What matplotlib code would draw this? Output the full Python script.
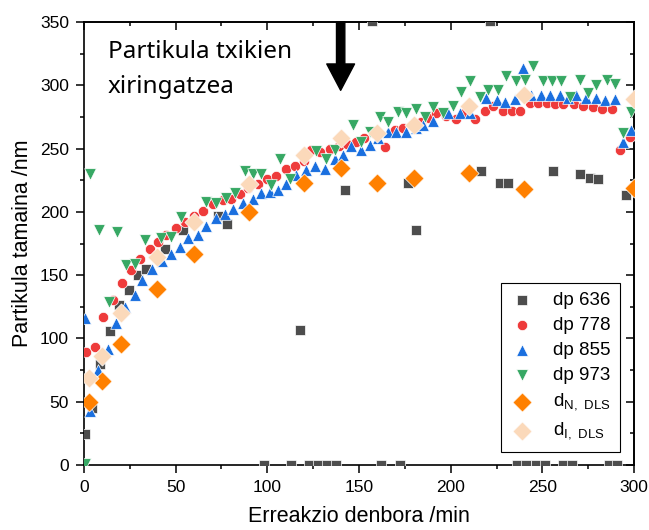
import matplotlib
matplotlib.use('Agg')
import matplotlib.pyplot as plt
from matplotlib.patches import FancyArrowPatch
from matplotlib.ticker import MultipleLocator

plt.rcParams['font.family'] = ['Liberation Sans', 'DejaVu Sans']

# dp 636 (grey squares)
t_636 = [0.4, 4.3, 9, 14, 19.3, 24.3, 29.5, 34, 44, 54, 73, 78, 98.3, 112.9,
         117.7, 122.9, 127.8, 132.7, 137.6, 142.3, 157.3, 162, 172.2, 176.8,
         181.3, 216.8, 221.7, 226.8, 231.3, 236.3, 241.3, 246.3, 251.3, 255.9,
         261, 266, 270.4, 275.9, 280.4, 286.5, 290.9, 295.5]
d_636 = [24.5, 44.8, 80, 105.5, 126.4, 138, 150, 155, 171, 186, 197, 190.5, 0, 0,
         107, 0, 0, 0, 0, 217, 351, 0, 0, 223,
         186, 232, 351, 223, 223, 0, 0, 0, 0, 232,
         0, 0, 230, 227, 226, 0, 0, 213]

# dp 778 (red circles)
t_778 = [1.3, 5.8, 10.4, 15.8, 20.7, 25.9, 30.4, 35.8, 40.4, 45, 50.4, 55, 60,
         65, 70.4, 75.8, 80.4, 85, 89.5, 95, 100, 105, 110.4, 115, 120, 124,
         129, 134, 139, 143.5, 148.6, 153, 158, 164, 169.5, 174, 179, 184, 188,
         192.2, 197.5, 203, 208, 213, 218.6, 223.2, 228.7, 233.2, 237.8, 243.2,
         247.8, 252.4, 256.9, 261.5, 267, 272.4, 277.9, 282.4, 287.9, 292.2, 297.7]
d_778 = [89.5, 93.5, 117, 130, 144, 154, 163, 171, 176, 182, 187, 192, 197,
         201, 206, 209, 210, 214, 218.5, 222, 226, 228, 234, 236, 240, 249,
         247, 250, 252, 254, 255, 258, 262, 251, 265, 266, 269, 271, 274,
         278, 276, 273, 279, 273, 280, 284, 280, 280, 280, 286,
         286, 286, 285, 285, 285, 284, 283, 281, 281, 249, 259]

# dp 855 (blue triangles)
t_855 = [0.4, 3.1, 7.6, 13, 17.7, 22.2, 27.7, 31.8, 37.3, 42.3, 47.7, 52.2, 56.7,
         62.2, 66.8, 72.2, 76.8, 81.3, 86.8, 92.2, 96.8, 101.3, 105.9, 110.4,
         115.9, 121.3, 125.9, 131.3, 136.8, 141.3, 145.9, 151.3, 155.9, 160.4,
         165.8, 170.4, 175.9, 181, 185, 190.6, 198.6, 205, 210.4, 219.5, 225,
         229.5, 235, 239.5, 244, 249.5, 254, 259.5, 264, 268.6, 274, 279.5, 284,
         289.5, 294, 298.6]
d_855 = [116, 43, 75, 92, 112, 125, 134, 146, 155, 161, 167, 172, 179,
         182, 189, 195, 198, 202, 207, 210, 215, 216, 217, 222,
         229, 233, 236, 234, 242, 245, 252, 249, 253, 258,
         263, 263, 263, 266, 269, 272, 278, 278, 278, 290, 288,
         287, 289, 314, 292, 292, 292, 292, 290, 292, 290, 290, 288,
         289, 255, 265]

# dp 973 (green down triangles)
t_973 = [0.4, 3.1, 8.2, 13.6, 18.2, 23.1, 27.7, 33.1, 42.2, 47.7, 53, 66.8, 72.2,
         77.7, 82.2, 87.7, 92.2, 96.8, 102.2, 106.8, 112.2, 126.8, 132.2, 136.8,
         146.8, 151.3, 155.9, 161.3, 165.8, 171.3, 175.9, 181.3, 185.9, 190.4,
         195.9, 201.3, 205.9, 210.4, 215.9, 220.4, 225.9, 230.4, 235.9, 240.4,
         245, 250.4, 255, 260.4, 265, 270.4, 275, 279.5, 285, 289.5, 294, 298.6]
d_973 = [1, 230, 186, 129, 184, 158, 159, 178, 179, 180, 196, 208, 207,
         211, 215, 232, 230, 230, 221, 242, 226, 248, 242, 249,
         269, 255, 263, 275, 271, 279, 278, 281, 275, 283,
         278, 284, 295, 303, 291, 296, 296, 307, 303, 304,
         315, 303, 303, 303, 291, 304, 294, 300, 304, 301, 262, 279]

# DLS
t_dls = [3, 10, 20, 40, 60, 90, 120, 140, 160, 180, 210, 240, 300]
dN_dls = [50, 66, 96, 139, 167, 200, 223, 235, 223, 227, 231, 218, 219]
dI_dls = [69, 86, 120, 164, 192, 222, 245, 258, 262, 269, 284, 292, 289]

fig = plt.figure(figsize=(6.49, 5.30), dpi=100)
ax = fig.add_axes([0.1294, 0.1226, 0.8475, 0.8359])

kw = dict(edgecolors='white', linewidths=0.5, zorder=3)
ax.scatter(t_636, d_636, marker='s', s=50, color='#4d4d4d', label='dp 636', **kw)
ax.scatter(t_778, d_778, marker='o', s=55, color='#ee3b3b', label='dp 778', **kw)
ax.scatter(t_855, d_855, marker='^', s=70, color='#1a6fdf', label='dp 855', **kw)
ax.scatter(t_973, d_973, marker='v', s=70, color='#37a864', label='dp 973', **kw)
ax.scatter(t_dls, dN_dls, marker='D', s=95, color='#ff8000',
           label=r'd$_\mathregular{N,\ DLS}$', **kw)
ax.scatter(t_dls, dI_dls, marker='D', s=95, color='#fbd9ba',
           label=r'd$_\mathregular{I,\ DLS}$', **kw)

ax.set_xlim(0, 300)
ax.set_ylim(0, 350)
ax.xaxis.set_major_locator(MultipleLocator(50))
ax.xaxis.set_minor_locator(MultipleLocator(25))
ax.yaxis.set_major_locator(MultipleLocator(50))
ax.yaxis.set_minor_locator(MultipleLocator(25))
ax.tick_params(which='major', direction='out', length=5.8, width=1.1,
               labelsize=12.5, pad=5)
ax.tick_params(which='minor', direction='out', length=3, width=1.1)
for sp in ax.spines.values():
    sp.set_linewidth(1.2)

# mirrored inward ticks on top and right
top = ax.secondary_xaxis('top')
top.xaxis.set_major_locator(MultipleLocator(50))
top.xaxis.set_minor_locator(MultipleLocator(25))
top.tick_params(which='major', direction='in', length=5.8, width=1.1, labeltop=False)
top.tick_params(which='minor', direction='in', length=3, width=1.1)
right = ax.secondary_yaxis('right')
right.yaxis.set_major_locator(MultipleLocator(50))
right.yaxis.set_minor_locator(MultipleLocator(25))
right.tick_params(which='major', direction='in', length=5.8, width=1.1, labelright=False)
right.tick_params(which='minor', direction='in', length=3, width=1.1)
top.spines['top'].set_linewidth(1.2)
right.spines['right'].set_linewidth(1.2)

ax.set_xlabel('Erreakzio denbora /min', fontsize=15.5, labelpad=8)
ax.set_ylabel('Partikula tamaina /nm', fontsize=15.5, labelpad=5)

ax.text(13, 336, 'Partikula txikien\nxiringatzea', fontsize=17.5,
        family=['Noto Sans', 'DejaVu Sans'], va='top', ha='left',
        linespacing=1.6, zorder=5)

arr = FancyArrowPatch((140, 350), (140, 296),
                      arrowstyle='simple,head_length=19,head_width=20,tail_width=6',
                      mutation_scale=1, color='black', shrinkA=0, shrinkB=0,
                      zorder=5, clip_on=False)
ax.add_patch(arr)

leg = ax.legend(loc='lower right', bbox_to_anchor=(0.9745, 0.030),
                borderaxespad=0, fontsize=13.5, scatterpoints=1,
                handlelength=1.3, handletextpad=1.0, labelspacing=0.42,
                fancybox=False, framealpha=1, edgecolor='black',
                borderpad=0.5)
leg.get_frame().set_linewidth(0.8)

fig.savefig('out.png', dpi=100)
